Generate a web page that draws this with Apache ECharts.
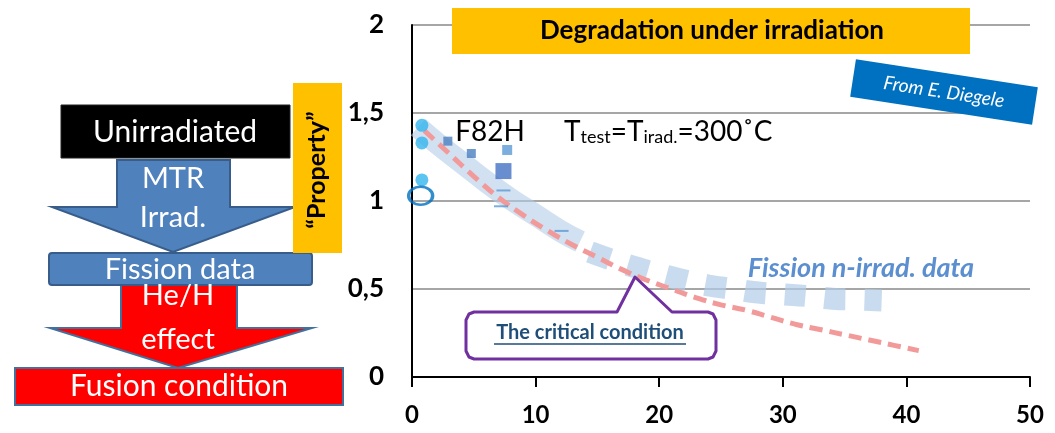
<!DOCTYPE html>
<html><head><meta charset="utf-8">
<script src="https://cdn.jsdelivr.net/npm/echarts@6/dist/echarts.min.js"></script>
<style>html,body{margin:0;padding:0;background:#fff}#c{width:1055px;height:433px}</style>
</head><body><div id="c"></div>
<script>
// ---- data ----
const yTickLabels = {'0':'0','0.5':'0,5','1':'1','1.5':'1,5','2':'2'};
const f82hCircles = [[0.8,1.43],[0.8,1.33],[0.8,1.12]];
const unirradiatedRef = [[0.7,1.03]];
const smallSquares = [[2.9,1.34],[4.8,1.27]];
const lightSquares = [[7.7,1.29]];
const bigSquares = [[7.4,1.17]];
const dashMarks = [[7.4,1.06],[7.2,0.97],[12.1,0.83]];
const fusionCurve = [[1,1.40],[3,1.27],[5,1.14],[7,1.02],[9,0.92],[11,0.83],[13,0.75],[15,0.68],[17,0.61],[19,0.55],[21,0.50],[23,0.45],[25,0.41],[27,0.38],[29,0.34],[31,0.30],[33,0.27],[35,0.24],[37,0.21],[39,0.18],[41,0.15]];
const fissionBandSolid = [[0.5,1.42],[2,1.33],[4,1.22],[6,1.11],[8,1.01],[10,0.92],[12,0.83],[13.6,0.77]];
const fissionBandDashed = [[14.4,0.71],[16,0.67],[18,0.625],[20,0.585],[22,0.55],[24,0.52],[26,0.50],[28,0.48],[30,0.47],[32,0.46],[34,0.445],[36,0.44],[38,0.435]];

const F = 'Lato, "Open Sans", sans-serif';
function txt(text, x, y, font, fill, extra) {
  return Object.assign({type:'text', z:20, style:{text, x, y, font, fill,
    align:'center', verticalAlign:'middle', textAlign:'center', textVerticalAlign:'middle'}}, extra||{});
}
const chart = echarts.init(document.getElementById('c'), null, {renderer:'canvas'});
const graphics = [
  // flowchart (left)
  {type:'polygon', z:10, shape:{points:[[117,160],[230,160],[230,207],[295,207],[173,252],[52,207],[117,207]]}, style:{fill:'#4f81bd', stroke:'#385d8a', lineWidth:2}},
  {type:'polygon', z:10, shape:{points:[[121,284],[237,284],[237,328],[312,328],[178,368],[50,328],[121,328]]}, style:{fill:'#ff0000', stroke:'#41719c', lineWidth:2}},
  {type:'rect', z:11, shape:{x:61,y:105,width:229,height:53}, style:{fill:'#000', stroke:'#222', lineWidth:1}},
  {type:'rect', z:11, shape:{x:49,y:253,width:263,height:32, r:3}, style:{fill:'#4f81bd', stroke:'#385d8a', lineWidth:2}},
  {type:'rect', z:11, shape:{x:15,y:368,width:328,height:37}, style:{fill:'#ff0000', stroke:'#41719c', lineWidth:2}},
  {type:'rect', z:12, shape:{x:293,y:83,width:49,height:170}, style:{fill:'#ffc000'}},
  txt('Unirradiated',175,132,'30px '+F,'#fff'),
  txt('MTR',173,179,'29px '+F,'#fff'),
  txt('Irrad.',173,218,'29px '+F,'#fff'),
  txt('Fission data',180,270,'29px '+F,'#fff'),
  txt('He/H',178,296,'29px '+F,'#fff'),
  txt('effect',178,340,'29px '+F,'#fff'),
  txt('Fusion condition',179,386,'30px '+F,'#fff'),
  {type:'text', z:21, x:317, y:170, rotation:Math.PI/2, style:{text:'\u201cProperty\u201d', x:0, y:0, font:'bold 25px '+F, fill:'#000',
    align:'center', verticalAlign:'middle', textAlign:'center', textVerticalAlign:'middle'}},
  // title box
  {type:'rect', z:12, shape:{x:452,y:8,width:518,height:46}, style:{fill:'#ffc000'}},
  txt('Degradation under irradiation',712,31,'bold 26px '+F,'#000'),
  // source box
  {type:'group', z:12, x:944, y:92, rotation:-0.152, children:[
    {type:'rect', z:12, shape:{x:-92,y:-19,width:184,height:38}, style:{fill:'#0070c0'}},
    {type:'text', z:13, style:{text:'From E. Diegele', x:0, y:0, font:'italic 19px '+F, fill:'#fff',
      align:'center', verticalAlign:'middle', textAlign:'center', textVerticalAlign:'middle'}}
  ]},
  // annotations
  txt('F82H',490,132,'28px '+F,'#000'),
  {type:'text', z:20, style:{x:564, y:132, text:'{a|T}{s|test}{a|=T}{s|irad.}{a|=300\u02daC}', font:'28px '+F, fill:'#000',
    align:'left', verticalAlign:'middle', textAlign:'left', textVerticalAlign:'middle',
    rich:{a:{font:'28px '+F, fill:'#000', lineHeight:28, verticalAlign:'top'}, s:{font:'18px '+F, fill:'#000', lineHeight:20, padding:[14,0,0,0], verticalAlign:'bottom'}}}},
  txt('Fission n-irrad. data',861,268,'italic bold 27px '+F,'#5b8fd0'),
  // callout
  {type:'polygon', z:15, shape:{points:[[474,312],[617,312],[635,277],[672,312],[708,312],[713,314],[716,320],[716,351],[713,357],[708,359],[474,359],[469,357],[466,351],[466,320],[469,314]]},
    style:{fill:'#fff', stroke:'#7030a0', lineWidth:3, lineJoin:'round'}},
  txt('The critical condition',590,333,'bold 20px '+F,'#1f4e79'),
  {type:'line', z:20, shape:{x1:494,y1:344,x2:686,y2:344}, style:{stroke:'#1f4e79', lineWidth:1.5}}
];

chart.setOption({
  animation:false,
  backgroundColor:'#fff',
  grid:{left:412, right:25, top:25, bottom:56},
  xAxis:{type:'value', min:0, max:50, interval:10,
    axisLine:{show:true, lineStyle:{color:'#000', width:2}},
    axisTick:{show:true, length:10, lineStyle:{color:'#000', width:2}},
    splitLine:{show:false},
    axisLabel:{margin:26, color:'#000', fontWeight:'bold', fontSize:24, fontFamily:F}},
  yAxis:{type:'value', min:0, max:2, interval:0.5,
    axisLine:{show:true, lineStyle:{color:'#000', width:2}},
    axisTick:{show:false},
    splitLine:{show:true, lineStyle:{color:'#a6a6a6', width:2}},
    axisLabel:{margin:28, color:'#000', fontWeight:'bold', fontSize:26, fontFamily:F,
      formatter:v => yTickLabels[String(v)] ?? String(v)}},
  series:[
    {type:'line', data:fissionBandSolid, smooth:true, symbol:'none', z:2,
      lineStyle:{color:'rgba(178,205,232,0.6)', width:22, cap:'butt'}},
    {type:'line', data:fissionBandDashed, smooth:true, symbol:'none', z:2,
      lineStyle:{color:'rgba(178,205,232,0.7)', width:22, type:[21,19], cap:'butt'}},
    {type:'line', data:fusionCurve, smooth:true, symbol:'none', z:3,
      lineStyle:{color:'#f29a9a', width:5, type:[13,7], cap:'butt'}},
    {type:'scatter', data:f82hCircles, symbol:'circle', symbolSize:13, z:4, itemStyle:{color:'#33b5ee'}},
    {type:'scatter', data:unirradiatedRef, symbol:'circle', symbolSize:[24,18], z:4, itemStyle:{color:'rgba(255,255,255,0)', borderColor:'#0070c0', borderWidth:3}},
    {type:'scatter', data:smallSquares, symbol:'rect', symbolSize:9, z:4, itemStyle:{color:'#4a7fc1'}},
    {type:'scatter', data:lightSquares, symbol:'rect', symbolSize:10, z:4, itemStyle:{color:'#5b9bd5'}},
    {type:'scatter', data:bigSquares, symbol:'rect', symbolSize:16, z:4, itemStyle:{color:'#4472c4'}},
    {type:'scatter', data:dashMarks, symbol:'rect', symbolSize:[14,2], z:4, itemStyle:{color:'#5b9bd5'}}
  ],
  graphic:graphics
});
</script>
</body></html>
